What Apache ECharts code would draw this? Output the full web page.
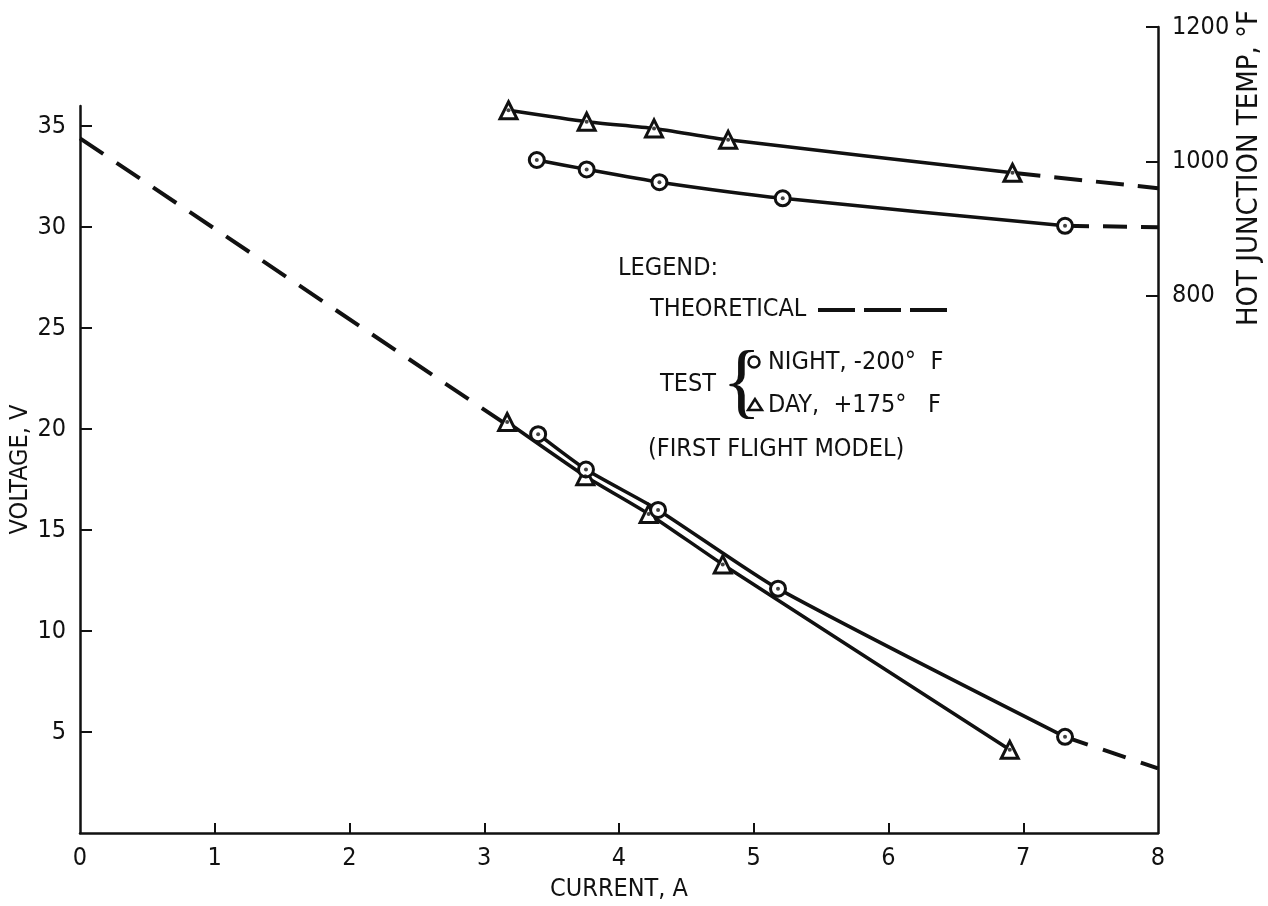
<!DOCTYPE html>
<html>
<head>
<meta charset="utf-8">
<script src="https://cdn.jsdelivr.net/npm/echarts@6/dist/echarts.min.js"></script>
<style>
  html, body { margin: 0; padding: 0; background: #fff; }
  #chart { width: 1268px; height: 906px; }
</style>
</head>
<body>
<div id="chart"></div>
<script>
// data: current (A) vs voltage (V) and hot junction temp (F)
var xTicks = [0, 1, 2, 3, 4, 5, 6, 7, 8];
var voltTicks = [5, 10, 15, 20, 25, 30, 35];
var tempTicks = [800, 1000, 1200];

var theoVolt1 = [[0, 34.4], [3.17, 20.2]];
var theoVolt2 = [[7.31, 4.76], [8, 3.2]];
var dayVolt = [[3.17, 20.35], [3.75, 17.67], [4.22, 15.8], [4.77, 13.3], [6.9, 4.12]];
var nightVolt = [[3.4, 19.75], [3.755, 18.0], [4.29, 16.0], [5.18, 12.1], [7.31, 4.76]];

var dayTemp = [[3.18, 1076], [3.76, 1059], [4.26, 1049], [4.81, 1032], [6.92, 983]];
var nightTemp = [[3.39, 1002], [3.76, 988], [4.3, 969], [5.215, 945], [7.31, 904]];
var theoDayTemp = [[6.92, 983], [8, 960]];
var theoNightTemp = [[7.31, 904], [8, 902]];

var FONT = '"Liberation Sans Narrow", "DejaVu Sans Condensed", sans-serif';
var BLACK = '#111';

var myChart = echarts.init(document.getElementById('chart'));

function curve(data, xi, yi, sym) {
    return {
        type: 'line', xAxisIndex: xi, yAxisIndex: yi, data: data,
        smooth: 0.2,
        symbol: sym, symbolSize: sym === 'circle' ? 15 : 17,
        showSymbol: true,
        lineStyle: { color: BLACK, width: 3.5 },
        itemStyle: { color: '#fff', borderColor: BLACK, borderWidth: 3 },
        z: 3, silent: true
    };
}
function dots(data, xi, yi) {
    return {
        type: 'scatter', xAxisIndex: xi, yAxisIndex: yi, data: data,
        symbol: 'circle', symbolSize: 4,
        itemStyle: { color: BLACK }, z: 5, silent: true
    };
}
function dashed(data, xi, yi, dash) {
    return {
        type: 'line', xAxisIndex: xi, yAxisIndex: yi, data: data,
        showSymbol: false, symbol: 'none',
        lineStyle: { color: BLACK, width: 4, type: dash },
        z: 2, silent: true
    };
}
var gridBase = { left: 80, right: 110, bottom: 73, containLabel: false, outerBoundsMode: 'none' };

var option = {
    backgroundColor: '#fff',
    animation: false,
    textStyle: { fontFamily: FONT, color: BLACK },
    grid: [
        Object.assign({ top: 106 }, gridBase),
        Object.assign({ top: 27 }, gridBase)
    ],
    xAxis: [
        {
            type: 'value', gridIndex: 0, min: 0, max: 8, interval: 1,
            name: 'CURRENT, A', nameLocation: 'middle', nameGap: 44,
            nameTextStyle: { fontFamily: FONT, fontSize: 25, color: BLACK },
            axisLine: { onZero: false, lineStyle: { color: BLACK, width: 2.5 } },
            axisTick: { inside: true, length: 10, lineStyle: { color: BLACK, width: 2 },
                customValues: xTicks.slice(1, 8) },
            axisLabel: { fontFamily: FONT, fontSize: 25, color: BLACK, margin: 13,
                customValues: xTicks },
            splitLine: { show: false }
        },
        {
            type: 'value', gridIndex: 1, min: 0, max: 8, show: false
        }
    ],
    yAxis: [
        {
            type: 'value', gridIndex: 0, min: 0, max: 36,
            name: 'VOLTAGE, V', nameLocation: 'middle', nameGap: 47, nameRotate: 90,
            nameMoveOverlap: false,
            nameTextStyle: { fontFamily: FONT, fontSize: 25, color: BLACK },
            axisLine: { show: true, onZero: false, lineStyle: { color: BLACK, width: 2.5 } },
            axisTick: { show: true, inside: true, length: 12, lineStyle: { color: BLACK, width: 2 },
                customValues: voltTicks },
            axisLabel: { fontFamily: FONT, fontSize: 25, color: BLACK, margin: 14,
                customValues: voltTicks },
            splitLine: { show: false }
        },
        {
            type: 'value', gridIndex: 1, min: 0, max: 1200, position: 'right',
            axisLine: { show: true, onZero: false, lineStyle: { color: BLACK, width: 2.5 } },
            axisTick: { show: true, inside: true, length: 12, lineStyle: { color: BLACK, width: 2 },
                customValues: tempTicks },
            axisLabel: { fontFamily: FONT, fontSize: 25, color: BLACK, margin: 14,
                customValues: tempTicks, formatter: function (v) { return String(v); } },
            splitLine: { show: false }
        }
    ],
    graphic: [
        { type: 'text', x: 1249, y: 168, rotation: Math.PI / 2,
          style: { text: 'HOT JUNCTION TEMP, \u00B0F', font: '29px ' + FONT, fill: BLACK,
                   align: 'center', verticalAlign: 'middle' } },
        { type: 'text', x: 618, y: 268,
          style: { text: 'LEGEND:', font: '25px ' + FONT, fill: BLACK, verticalAlign: 'middle' } },
        { type: 'text', x: 650, y: 309,
          style: { text: 'THEORETICAL', font: '25px ' + FONT, fill: BLACK, verticalAlign: 'middle' } },
        { type: 'line', shape: { x1: 818, y1: 310, x2: 955, y2: 310 },
          style: { stroke: BLACK, lineWidth: 4, lineDash: [37, 9] } },
        { type: 'text', x: 660, y: 384,
          style: { text: 'TEST', font: '25px ' + FONT, fill: BLACK, verticalAlign: 'middle' } },
        { type: 'text', x: 722, y: 386,
          style: { text: '{', font: '82px "Liberation Serif", serif', fill: BLACK, verticalAlign: 'middle' } },
        { type: 'circle', shape: { cx: 754, cy: 362, r: 5.5 },
          style: { fill: '#fff', stroke: BLACK, lineWidth: 2.5 } },
        { type: 'text', x: 768, y: 362,
          style: { text: 'NIGHT, -200\u00B0  F', font: '25px ' + FONT, fill: BLACK, verticalAlign: 'middle' } },
        { type: 'polygon', shape: { points: [[755, 399], [748, 410], [762, 410]] },
          style: { fill: '#fff', stroke: BLACK, lineWidth: 2.5 } },
        { type: 'text', x: 768, y: 405,
          style: { text: 'DAY,  +175\u00B0   F', font: '25px ' + FONT, fill: BLACK, verticalAlign: 'middle' } },
        { type: 'text', x: 648, y: 449,
          style: { text: '(FIRST FLIGHT MODEL)', font: '25px ' + FONT, fill: BLACK, verticalAlign: 'middle' } }
    ],
    series: [
        dashed(theoVolt1, 0, 0, [28, 16]),
        dashed(theoVolt2, 0, 0, [24, 16]),
        dashed(theoDayTemp, 1, 1, [28, 14]),
        dashed(theoNightTemp, 1, 1, [24, 14]),
        curve(dayVolt, 0, 0, 'triangle'),
        curve(nightVolt, 0, 0, 'circle'),
        curve(dayTemp, 1, 1, 'triangle'),
        curve(nightTemp, 1, 1, 'circle'),
        dots(dayVolt, 0, 0),
        dots(nightVolt, 0, 0),
        dots(dayTemp, 1, 1),
        dots(nightTemp, 1, 1)
    ]
};
myChart.setOption(option, true);
</script>
</body>
</html>
